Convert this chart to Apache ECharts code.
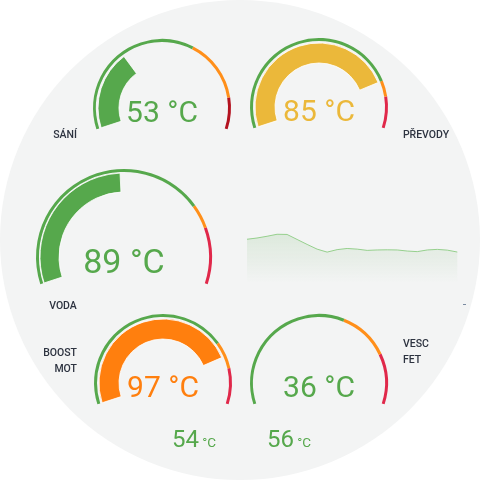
<!DOCTYPE html>
<html>
<head>
<meta charset="utf-8">
<script src="https://cdn.jsdelivr.net/npm/echarts@6/dist/echarts.min.js"></script>
<style>
html,body{margin:0;padding:0;background:#fff;}
#chart{width:480px;height:480px;border-radius:50%;background:#f3f4f4;overflow:hidden;}
</style>
</head>
<body>
<div id="chart"></div>
<script>
// ---- data ----
const gaugeNames = ['SÁNÍ', 'PŘEVODY', 'VODA', 'BOOST\nMOT', 'VESC\nFET'];
const gaugeValues = [53, 85, 89, 97, 36];
const gaugeMin = [0, 20, 50, 0, 40];
const gaugeMax = [160, 100, 130, 120, 120];
const warnThreshold = [100, 85, 110, 90, 88];
const alarmThreshold = [140, 90, 116, 103, 104];
const bottomValues = [54, 56];
const historyValues = [52.7, 54.2, 56.3, 58.7, 58.5, 52.5, 46.5, 40.8, 37.2, 40.2, 41.6, 40.8,
  39.3, 39.8, 40.0, 39.8, 38.5, 37.8, 39.8, 40.5, 39.6, 37.3];
const historyLabels = historyValues.map((v, i) => String(i));
const unit = '°C';

// ---- styles ----
const GREEN = '#56a84c', ORANGE = '#ff8f1a', RED = '#e0284a', DARKRED = '#b3121f';
const YELLOW = '#ebb83a', PORANGE = '#ff7f0e';
const layout = [
  {c: [162, 108], r: 69, pr: 64, pw: 21, fs: 30, off: 6, red: DARKRED, label: {x: 65, y: 135, align: 'center'}},
  {c: [319, 107], r: 69, pr: 64, pw: 20, fs: 30, off: 6, red: RED, label: {x: 426, y: 135, align: 'center'}},
  {c: [124, 257], r: 88, pr: 84, pw: 19, fs: 34, off: 7, red: RED, label: {x: 63, y: 306, align: 'center'}},
  {c: [163, 383], r: 69, pr: 64, pw: 20, fs: 30, off: 6, red: RED, label: {x: 77, y: 361, align: 'right'}},
  {c: [319, 383], r: 69, pr: 64, pw: 20, fs: 30, off: 6, red: RED, label: {x: 403, y: 352, align: 'left'}}
];
function statusColor(i) {
  const v = gaugeValues[i];
  if (v >= alarmThreshold[i]) return RED;
  if (v >= warnThreshold[i]) return i === 1 ? YELLOW : PORANGE;
  return GREEN;
}

const series = [];
const graphic = [];
gaugeValues.forEach((v, i) => {
  const L = layout[i];
  const span = gaugeMax[i] - gaugeMin[i];
  const f1 = (warnThreshold[i] - gaugeMin[i]) / span;
  const f2 = (alarmThreshold[i] - gaugeMin[i]) / span;
  const common = {
    type: 'gauge', center: L.c, startAngle: 198, endAngle: -18,
    min: gaugeMin[i], max: gaugeMax[i],
    splitLine: {show: false}, axisTick: {show: false}, axisLabel: {show: false},
    pointer: {show: false}, title: {show: false}, animation: false
  };
  series.push(Object.assign({}, common, {
    radius: L.r,
    axisLine: {lineStyle: {width: 3, color: [[f1, GREEN], [f2, ORANGE], [1, L.red]]}},
    detail: {show: false},
    data: [{value: v}]
  }));
  const col = statusColor(i);
  series.push(Object.assign({}, common, {
    radius: L.pr,
    axisLine: {show: false, lineStyle: {width: 0}},
    progress: {show: v > gaugeMin[i], width: L.pw,
      itemStyle: {color: col, borderColor: '#ffffff', borderWidth: 0.8}},
    detail: {show: true, offsetCenter: [0, L.off], formatter: '{value} ' + unit,
      color: col, fontFamily: 'Roboto', fontSize: L.fs, fontWeight: 'normal'},
    data: [{value: v}]
  }));
  graphic.push({
    type: 'text', x: L.label.x, y: L.label.y,
    style: {text: gaugeNames[i], fill: '#2d3340', font: '500 10.5px Roboto',
      align: L.label.align, verticalAlign: 'middle', lineHeight: 16}
  });
});

bottomValues.forEach((v, i) => {
  graphic.push({
    type: 'text', x: [172, 267][i], y: 453,
    style: {
      text: '{n|' + v + '} {u|' + unit + '}',
      verticalAlign: 'bottom', align: 'left',
      rich: {
        n: {fontFamily: 'Roboto', fontSize: 24, fill: GREEN, color: GREEN},
        u: {fontFamily: 'Roboto', fontSize: 13.5, fill: GREEN, color: GREEN, padding: [6, 0, 0, 0]}
      }
    }
  });
});
graphic.push({type: 'rect', shape: {x: 463, y: 304, width: 3, height: 1}, style: {fill: '#7a8aa0'}});

series.push({
  type: 'line', data: historyValues, symbol: 'none', smooth: false, animation: false,
  lineStyle: {color: '#95cf8c', width: 1},
  areaStyle: {color: new echarts.graphic.LinearGradient(0, 0, 0, 1, [
    {offset: 0, color: 'rgba(86,168,76,0.2)'},
    {offset: 1, color: 'rgba(86,168,76,0)'}
  ])}
});

const chart = echarts.init(document.getElementById('chart'), null, {renderer: 'canvas'});
chart.setOption({
  backgroundColor: 'transparent',
  animation: false,
  grid: {left: 247, right: 22.7, top: 200, bottom: 197},
  xAxis: {type: 'category', data: historyLabels, boundaryGap: false, show: false},
  yAxis: {type: 'value', min: 0, max: 100, show: false},
  series: series,
  graphic: graphic
});
</script>
</body>
</html>
